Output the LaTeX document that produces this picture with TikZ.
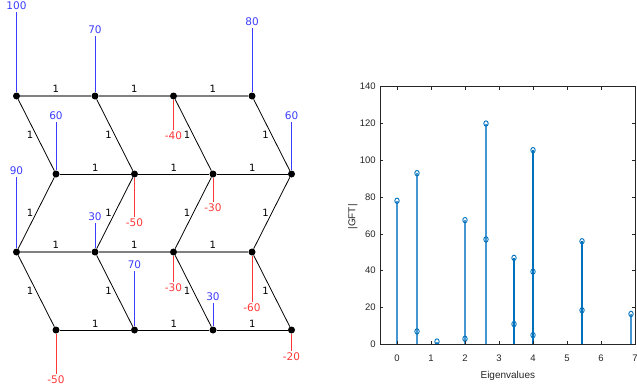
\documentclass[tikz,border=0pt]{standalone}
\usepackage{fontspec}
\setmainfont{DejaVu Sans}
\newfontfamily\plotfont{Liberation Sans}
\definecolor{sigblue}{RGB}{60,60,255}
\definecolor{sigred}{RGB}{255,55,55}
\definecolor{stemblue}{RGB}{0,114,189}
\definecolor{stemlight}{RGB}{70,150,210}
\definecolor{axisgray}{RGB}{38,38,38}

\begin{document}
\begin{tikzpicture}[x=1pt, y=-1pt,
  vert/.style={circle, fill=black, inner sep=0pt, minimum size=7pt},
  elab/.style={font=\fontsize{10}{12}\selectfont, inner sep=2.5pt},
  slab/.style={font=\fontsize{10.5}{12}\selectfont, inner sep=1.5pt}]
\useasboundingbox (0,0) rectangle (637,391);
% Vertices
\foreach \r/\y in {1/96,2/174,3/252,4/330}
  \foreach \c in {1,...,4}
    \node[vert] (v\r\c) at ({16.5+78.5*(\c-1)+(1-mod(\r,2))*39.5}, \y) {};
% Horizontal edges
\foreach \r/\ecol/\lw in {1/gray/1.3pt,2/black/0.8pt,3/gray/1.3pt,4/black/0.8pt}
  \foreach \a/\b in {1/2,2/3,3/4}
    \draw[draw=\ecol, line width=\lw] (v\r\a) -- node[elab, above, text=black] {1} (v\r\b);
% Slanted edges
\foreach \r/\s in {1/2,2/3,3/4}
  \foreach \c in {1,...,4}
    \draw[black, line width=0.8pt] (v\r\c) -- node[elab, left] {1} (v\s\c);
% Signal values
\foreach \r/\c/\v/\scol/\ly/\an in {1/1/100/sigblue/6/south, 1/2/70/sigblue/30/south,
    1/3/-40/sigred/136/north, 1/4/80/sigblue/22/south,
    2/1/60/sigblue/116/south, 2/2/-50/sigred/223/north,
    2/3/-30/sigred/208/north, 2/4/60/sigblue/116/south,
    3/1/90/sigblue/171/south, 3/2/30/sigblue/217/south,
    3/3/-30/sigred/288/north, 3/4/-60/sigred/308/north,
    4/1/-50/sigred/380/north, 4/2/70/sigblue/265/south,
    4/3/30/sigblue/297/south, 4/4/-20/sigred/357/north}
{
  \node[slab, text=\scol] (s\r\c) at (v\r\c |- 0,\ly) {\v};
  \draw[draw=\scol, line width=1pt] (v\r\c) -- (s\r\c.\an);
}
% GFT stem plot
\begin{scope}[shift={(397pt,-344.3pt)}, x=34pt, y=1.84pt,
  font=\plotfont\fontsize{9.5}{10}\selectfont]
% Stems
\foreach \ev/\hgt/\tone in {0/78/stemlight, 0.5882/93/stemlight, 1.1765/1.5/stemlight,
    2/67.5/stemlight, 2.6176/120/stemlight, 3.4412/47/stemblue, 4/105.5/stemblue,
    5.4412/56/stemblue, 6.8824/16.5/stemlight}
  \draw[draw=\tone, line width=1.7pt] (\ev,0) -- (\ev,\hgt);
\foreach \ev/\m in {0/78, 0.5882/93, 0.5882/7, 1.1765/1.5, 2/67.5, 2/3, 2.6176/120,
    2.6176/57, 3.4412/47, 3.4412/11, 4/105.5, 4/39.5, 4/5, 5.4412/56, 5.4412/18.5,
    6.8824/16.5}
  \draw[stemblue, line width=0.9pt] (\ev,\m) circle[x radius=2.2pt, y radius=2.7pt];
% Axes box and ticks
\draw[axisgray, line width=0.8pt] (-0.5,0) rectangle (7,140);
\foreach \x in {0,...,7} {
  \draw[axisgray, line width=0.6pt] (\x,0) -- ++(0,1.6);
  \draw[axisgray, line width=0.6pt] (\x,140) -- ++(0,-1.6);
  \node[text=axisgray] (xt\x) at (\x,-7.6) {\x};
}
\foreach \y in {0,20,...,140} {
  \draw[axisgray, line width=0.6pt] (-0.5,\y) -- ++(0.09,0);
  \draw[axisgray, line width=0.6pt] (7,\y) -- ++(-0.09,0);
  \node[anchor=east, inner sep=0pt, text=axisgray] (yt\y) at (-0.62,\y) {\y};
}
% Axis labels
\node[rotate=90, text=axisgray, font=\plotfont\fontsize{10}{12}\selectfont] (ylab) at (-1.3,69.2) {|GFT|};
\node[text=axisgray, font=\plotfont\fontsize{10}{12}\selectfont] (xlab) at (3.26,-17.2) {Eigenvalues};
\end{scope}
\end{tikzpicture}
\end{document}
